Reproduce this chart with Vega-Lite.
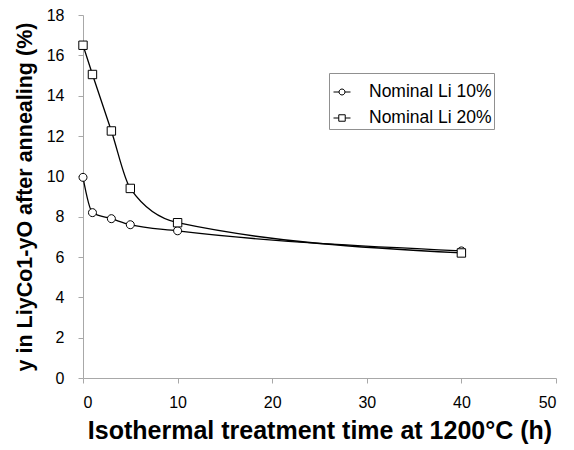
{
  "$schema": "https://vega.github.io/schema/vega-lite/v6.json",
  "width": 473,
  "height": 363,
  "autosize": {"type": "none"},
  "padding": {"left": 83, "top": 15, "right": 18, "bottom": 72},
  "config": {
    "view": {"stroke": null},
    "font": "Liberation Sans",
    "axis": {
      "grid": false,
      "domainColor": "#a8a8a8",
      "tickColor": "#a8a8a8",
      "tickSize": 5,
      "labelFontSize": 16,
      "labelColor": "black",
      "labelFont": "Liberation Sans",
      "titleFont": "Liberation Sans",
      "titleFontWeight": "bold",
      "titleColor": "black"
    }
  },
  "data": {
    "values": [
      {"series": "Nominal Li 10%", "t": 0, "y": 9.95},
      {"series": "Nominal Li 10%", "t": 1, "y": 8.2},
      {"series": "Nominal Li 10%", "t": 3, "y": 7.9},
      {"series": "Nominal Li 10%", "t": 5, "y": 7.6},
      {"series": "Nominal Li 10%", "t": 10, "y": 7.3},
      {"series": "Nominal Li 10%", "t": 40, "y": 6.3},
      {"series": "Nominal Li 20%", "t": 0, "y": 16.5},
      {"series": "Nominal Li 20%", "t": 1, "y": 15.05},
      {"series": "Nominal Li 20%", "t": 3, "y": 12.25},
      {"series": "Nominal Li 20%", "t": 5, "y": 9.4},
      {"series": "Nominal Li 20%", "t": 10, "y": 7.7},
      {"series": "Nominal Li 20%", "t": 40, "y": 6.2}
    ]
  },
  "encoding": {
    "x": {
      "field": "t",
      "type": "quantitative",
      "scale": {"domain": [0, 50], "nice": false},
      "axis": {
        "values": [0, 10, 20, 30, 40, 50],
        "title": "Isothermal treatment time at 1200°C (h)",
        "titleFontSize": 25,
        "labelPadding": 11,
        "titlePadding": 8
      }
    },
    "y": {
      "field": "y",
      "type": "quantitative",
      "scale": {"domain": [0, 18], "nice": false},
      "axis": {
        "values": [0, 2, 4, 6, 8, 10, 12, 14, 16, 18],
        "title": "y in LiyCo1-yO after annealing (%)",
        "titleFontSize": 21.5,
        "labelPadding": 14,
        "titlePadding": 10
      }
    }
  },
  "layer": [
    {
      "mark": {"type": "line", "interpolate": "monotone", "color": "black", "strokeWidth": 1.3},
      "encoding": {"detail": {"field": "series", "type": "nominal"}}
    },
    {
      "mark": {"type": "point", "filled": true, "fill": "white", "stroke": "black", "strokeWidth": 1, "opacity": 1, "size": 400},
      "encoding": {
        "shape": {
          "field": "series",
          "type": "nominal",
          "scale": {
            "range": [
              "M0.4,0A0.4,0.4,0,1,1,-0.4,0A0.4,0.4,0,1,1,0.4,0Z",
              "M-0.42,-0.42H0.42V0.42H-0.42Z"
            ]
          },
          "legend": null
        }
      }
    },
    {
      "transform": [{"filter": "false"}],
      "mark": {"type": "point", "filled": false, "color": "black", "stroke": "black", "strokeWidth": 1, "opacity": 1},
      "encoding": {
        "shape": {
          "field": "series",
          "type": "nominal",
          "scale": {
            "domain": ["Nominal Li 10%", "Nominal Li 20%"],
            "range": [
              "M-1,0H-0.35M0.35,0H1M0.35,0A0.35,0.35,0,1,1,-0.35,0A0.35,0.35,0,1,1,0.35,0Z",
              "M-1,0H-0.38M0.38,0H1M-0.38,-0.38H0.38V0.38H-0.38Z"
            ]
          },
          "legend": {
            "orient": "none",
            "legendX": 246,
            "legendY": 58,
            "title": " ",
            "titleFontSize": 8,
            "titlePadding": 0,
            "padding": 2,
            "symbolOffset": 2,
            "symbolSize": 289,
            "symbolStrokeColor": "black",
            "symbolStrokeWidth": 1,
            "labelFontSize": 17.5,
            "labelColor": "black",
            "labelFont": "Liberation Sans",
            "labelOffset": 18,
            "rowPadding": 8,
            "strokeColor": "#909090",
            "fillColor": "white"
          }
        }
      }
    }
  ],
  "resolve": {"scale": {"shape": "independent"}}
}
